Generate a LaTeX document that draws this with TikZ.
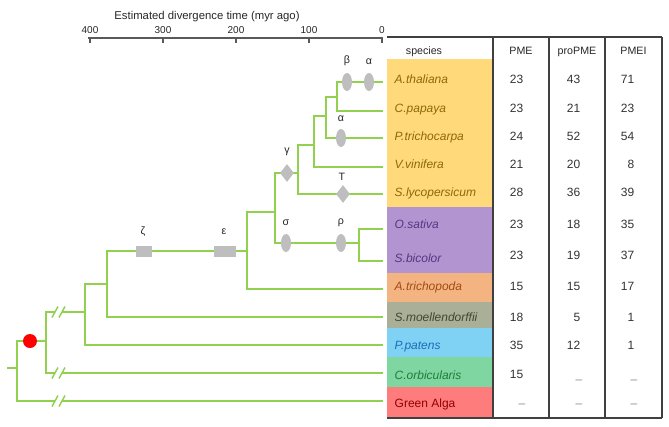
\documentclass[tikz,border=0pt]{standalone}
\usepackage{fontspec}
\setmainfont{Liberation Sans}
\usetikzlibrary{shapes.geometric}
\definecolor{brgreen}{RGB}{146,208,80}
\definecolor{mkgray}{RGB}{190,190,190}
\definecolor{dotred}{RGB}{255,0,0}
\definecolor{cyel}{RGB}{255,217,122}
\definecolor{cpur}{RGB}{178,148,208}
\definecolor{corg}{RGB}{244,180,130}
\definecolor{cgg}{RGB}{170,176,152}
\definecolor{cblu}{RGB}{128,210,245}
\definecolor{cgrn}{RGB}{128,214,160}
\definecolor{cred}{RGB}{255,124,124}
\definecolor{tyel}{RGB}{140,105,10}
\definecolor{tpur}{RGB}{85,55,130}
\definecolor{torg}{RGB}{160,75,20}
\definecolor{tgg}{RGB}{65,70,50}
\definecolor{tblu}{RGB}{25,110,185}
\definecolor{tgrn}{RGB}{30,125,60}
\definecolor{tred}{RGB}{150,0,0}
\begin{document}
\begin{tikzpicture}[x=0.75pt,y=-0.75pt,
  branch/.style={draw=brgreen,line width=1.5pt},
  brk/.style={draw=brgreen,line width=1.1pt},
  oval/.style={ellipse,fill=mkgray,minimum width=7.5pt,minimum height=13.5pt,inner sep=0pt},
  dia/.style={diamond,fill=mkgray,minimum width=10.5pt,minimum height=13.5pt,inner sep=0pt},
  evbox/.style={rectangle,fill=mkgray,minimum height=8.25pt,inner sep=0pt},
  glab/.style={font=\fontsize{8}{9}\selectfont,text=black!85},
  sp/.style={anchor=base west,font=\fontsize{9}{10}\selectfont\itshape},
  num/.style={anchor=base east,font=\fontsize{9}{10}\selectfont,text=black!80},
  dsh/.style={anchor=base,font=\fontsize{9}{10}\selectfont,text=black!45},
  hdr/.style={anchor=base,font=\fontsize{8}{9}\selectfont,text=black!85},
  tab/.style={draw=black!75,line width=0.8pt},
  axisline/.style={draw=black!65,line width=0.9pt},
  ticklab/.style={anchor=base,font=\fontsize{7.5}{8}\selectfont,text=black!85}]
\useasboundingbox (0,0) rectangle (669,426);
% ---------- axis ----------
\node[anchor=base,font=\fontsize{8.5}{10}\selectfont,text=black!85] (title) at (207,19) {Estimated divergence time (myr ago)};
\coordinate (ax0) at (88,38);
\coordinate (ax1) at (383,38);
\draw[axisline] (ax0) -- (ax1);
\foreach \xx/\lab/\nm in {90/400/a, 163/300/b, 236/200/c, 309/100/d, 382/0/e}{
  \coordinate (tk\nm) at (\xx,38);
  \draw[axisline] (tk\nm) -- ++(0,4.5);
  \node[ticklab] (tl\nm) at (\xx,33.5) {\lab};
}
% ---------- table backgrounds ----------
\fill[cyel] (387,59) rectangle (493,207);
\fill[cpur] (387,207) rectangle (493,273);
\fill[corg] (387,273) rectangle (493,302);
\fill[cgg] (387,302) rectangle (493,328);
\fill[cblu] (387,328) rectangle (493,357);
\fill[cgrn] (387,357) rectangle (493,387);
\fill[cred] (387,387) rectangle (493,418);
% table lines
\draw[tab] (387,37) -- (662,37);
\draw[tab] (387,418) -- (662,418);
\foreach \xx in {493,549,605,662}{\draw[tab] (\xx,37) -- (\xx,418);}
% header
\node[hdr] (hsp) at (424,54) {species};
\node[hdr] (hpme) at (521,54) {PME};
\node[hdr] (hpro) at (577,54) {proPME};
\node[hdr] (hpmei) at (633.5,54) {PMEI};
% species names
\node[sp,text=tyel] (sAth) at (390,83.5) {A.thaliana};
\node[sp,text=tyel] (sCpa) at (390,112.5) {C.papaya};
\node[sp,text=tyel] (sPtr) at (390,140.5) {P.trichocarpa};
\node[sp,text=tyel] (sVvi) at (390,168) {V.vinifera};
\node[sp,text=tyel] (sSly) at (390,196) {S.lycopersicum};
\node[sp,text=tpur] (sOsa) at (390,228.5) {O.sativa};
\node[sp,text=tpur] (sSbi) at (390,262) {S.bicolor};
\node[sp,text=torg] (sAtr) at (390,290.5) {A.trichopoda};
\node[sp,text=tgg] (sSmo) at (390,321.5) {S.moellendorffii};
\node[sp,text=tblu] (sPpa) at (390,349.5) {P.patens};
\node[sp,text=tgrn] (sCor) at (390,379) {C.orbicularis};
\node[sp,text=tred,font=\fontsize{9}{10}\selectfont\upshape] (sGal) at (390,407.5) {Green Alga};
% numbers
\foreach \yy/\a/\b/\c/\nm in {83.5/23/43/71/Ath, 112.5/23/21/23/Cpa, 140.5/24/52/54/Ptr, 168/21/20/8/Vvi, 196/28/36/39/Sly, 228.5/23/18/35/Osa, 259.5/23/19/37/Sbi, 290.5/15/15/17/Atr, 321.5/18/5/1/Smo, 349.5/35/12/1/Ppa}{
  \node[num] (p\nm) at (528,\yy) {\a};
  \node[num] (q\nm) at (585,\yy) {\b};
  \node[num] (r\nm) at (639,\yy) {\c};
}
\node[num] (pCor) at (528,378.5) {15};
\node[dsh] (qCor) at (579,383.3) {–};
\node[dsh] (rCor) at (634,383.3) {–};
\node[dsh] (pGal) at (522,407.3) {–};
\node[dsh] (qGal) at (579,407.3) {–};
\node[dsh] (rGal) at (634,407.3) {–};
% ---------- tree ----------
\foreach \nm/\yy in {Ath/82, Cpa/111, Ptr/138, Vvi/167, Sly/194, Osa/229, Sbi/261, Atr/289, Smo/317, Ppa/345, Cor/373, Gal/401}{
  \coordinate (L\nm) at (383,\yy);
}
\coordinate (n1) at (337,96.5);
\coordinate (n2) at (326,116);
\coordinate (n3) at (314,145);
\coordinate (n4) at (298,173);
\coordinate (n5) at (359,243);
\coordinate (n6) at (275,212);
\coordinate (n7) at (247,251);
\coordinate (n8) at (107,284);
\coordinate (n9) at (85,312);
\coordinate (n10) at (46,341);
\coordinate (n11) at (17,368);
\coordinate (rootend) at (7,368);
% break coordinates
\coordinate (b1a) at (55,312);
\coordinate (b1b) at (62,312);
\coordinate (b2a) at (55,373);
\coordinate (b2b) at (62,373);
\coordinate (b3a) at (55,401);
\coordinate (b3b) at (62,401);
\draw[branch] (n1) |- (LAth);
\draw[branch] (n1) |- (LCpa);
\draw[branch] (n2) |- (n1);
\draw[branch] (n2) |- (LPtr);
\draw[branch] (n3) |- (n2);
\draw[branch] (n3) |- (LVvi);
\draw[branch] (n4) |- (n3);
\draw[branch] (n4) |- (LSly);
\draw[branch] (n5) |- (LOsa);
\draw[branch] (n5) |- (LSbi);
\draw[branch] (n6) |- (n4);
\draw[branch] (n6) |- (n5);
\draw[branch] (n7) |- (n6);
\draw[branch] (n7) |- (LAtr);
\draw[branch] (n8) |- (n7);
\draw[branch] (n8) |- (LSmo);
\draw[branch] (n9) |- (n8);
\draw[branch] (n9) |- (LPpa);
\draw[branch] (n10) |- (b1a);
\draw[branch] (b1b) -- (n9);
\draw[branch] (n10) |- (b2a);
\draw[branch] (b2b) -- (LCor);
\draw[branch] (n11) |- (n10);
\draw[branch] (n11) |- (b3a);
\draw[branch] (b3b) -- (LGal);
\draw[branch] (rootend) -- (n11);
\foreach \bb in {b1a,b1b,b2a,b2b,b3a,b3b}{
  \draw[brk] ([shift={(-3,5.5)}]\bb) -- ([shift={(3,-5.5)}]\bb);
}
% root duplication dot
\node[circle,fill=dotred,minimum size=10.5pt,inner sep=0pt] (wgd) at (30,341) {};
% ---------- events ----------
\node[oval] (ebeta) at (347,82) {};
\node[oval] (ealpha) at (369,82) {};
\node[oval] (ealphaP) at (341,138) {};
\node[oval] (esigma) at (286,243) {};
\node[oval] (erho) at (341,243) {};
\node[dia] (egamma) at (287,173) {};
\node[dia] (eT) at (343,194) {};
\node[evbox,minimum width=12pt] (ezeta) at (144,251) {};
\node[evbox,minimum width=16.5pt] (eeps) at (225,251) {};
\node[glab] (lbeta) at (347,61) {β};
\node[glab] (lalpha) at (369,62) {α};
\node[glab] (lalphaP) at (341,119) {α};
\node[glab] (lgamma) at (287,152) {γ};
\node[glab] (lT) at (342,177) {T};
\node[glab] (lsigma) at (286,223) {σ};
\node[glab] (lrho) at (341,223) {ρ};
\node[glab] (lzeta) at (143,232) {ζ};
\node[glab] (leps) at (224,232) {ε};
\end{tikzpicture}
\end{document}
